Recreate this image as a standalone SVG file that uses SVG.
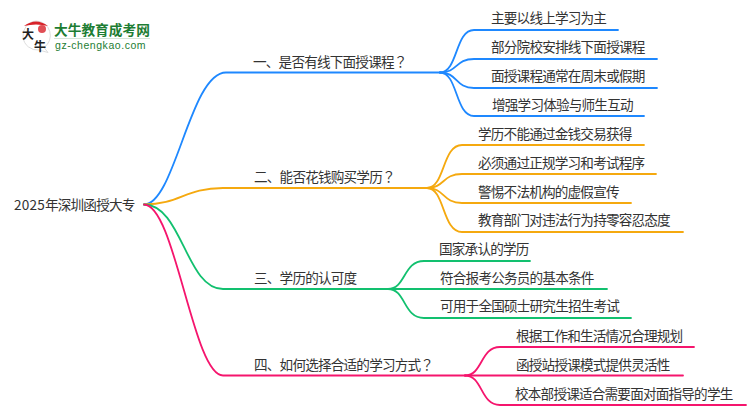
<svg xmlns="http://www.w3.org/2000/svg" width="750" height="410" viewBox="0 0 750 410">
<style>
text{font-family:"Noto Sans CJK SC","Noto Sans",sans-serif;font-size:13.6px;letter-spacing:-.8px;fill:#333}
.q{font-family:"Noto Sans CJK JP",sans-serif}
.d{letter-spacing:.2px}
.c{fill:none;stroke-width:1.8;stroke-linecap:round}
.b{stroke:#1e88ff}.o{stroke:#f5a90f}.g{stroke:#12c06f}.p{stroke:#f5156d}
</style>
<rect width="750" height="410" fill="#fff"/>
<g id="logo">
<path d="M36 21a14.500 14.500 0 1 0 3 29l9 2.500-4-5a14.500 14.500 0 0 0-8-26.500z" fill="#fff" stroke="#ddd"/>
<path d="M24 26q12-9 24 0q-12-3-24 0z" fill="#d8232a"/>
<circle cx="42" cy="29" r="4" fill="#d8232a" opacity=".8"/>
<text x="22" y="39" style="font-size:12px;letter-spacing:0;fill:#222;font-weight:700">大</text>
<text x="34" y="51" style="font-size:12px;letter-spacing:0;fill:#222;font-weight:700">牛</text>
<text x="54" y="35" style="font-size:13.700px;letter-spacing:0;font-weight:700;fill:#1d7d33">大牛教育成考网</text>
<rect x="54" y="38" width="96" height="1" fill="#d5e5d8"/>
<text x="55" y="49" style="font-size:10.500px;fill:#1d7d33;font-family:'Liberation Sans',sans-serif;letter-spacing:.55px">gz-chengkao.com</text>
</g>
<g id="connectors">
<path class="c b" d="M144 204.500C175 204.500 190 72.500 226 72.500H440"/>
<path class="c o" d="M144 204.500C180 204.500 185 188 223 188H427"/>
<path class="c g" d="M144 204.500C182 204.500 186 289 223 289H388"/>
<path class="c p" d="M144 204.500C175 204.500 193 375.500 223 375.500H465"/>
<path class="c b" d="M440 72.500C458 72.500 455 30 474 30H618"/>
<path class="c b" d="M440 72.500C458 72.500 455 59 474 59H657"/>
<path class="c b" d="M440 72.500C458 72.500 455 88 474 88H657"/>
<path class="c b" d="M440 72.500C458 72.500 455 116 474 116H644"/>
<path class="c o" d="M427 188C445 188 442 145 462 145H644"/>
<path class="c o" d="M427 188C445 188 442 174 462 174H656"/>
<path class="c o" d="M427 188C445 188 442 203 462 203H631"/>
<path class="c o" d="M427 188C445 188 442 232 462 232H683"/>
<path class="c g" d="M388 289C406 289 403 261 424 261H530"/>
<path class="c g" d="M388 289H607"/>
<path class="c g" d="M388 289C406 289 403 318 424 318H631"/>
<path class="c p" d="M465 375.500C483 375.500 480 347 500 347H694"/>
<path class="c p" d="M465 375.500H683"/>
<path class="c p" d="M465 375.500C483 375.500 480 405 500 405H746"/>
</g>
<g id="root"><text x="14" y="210"><tspan class="d">2025</tspan>年深圳函授大专</text></g>
<g id="n1"><text x="253" y="67">一、是否有线下面授课程<tspan class="q">？</tspan></text></g>
<g id="n2"><text x="254" y="182">二、能否花钱购买学历<tspan class="q">？</tspan></text></g>
<g id="n3"><text x="254" y="283">三、学历的认可度</text></g>
<g id="n4"><text x="254" y="370">四、如何选择合适的学习方式<tspan class="q">？</tspan></text></g>
<g id="n1a"><text x="491" y="23">主要以线上学习为主</text></g>
<g id="n1b"><text x="491" y="52">部分院校安排线下面授课程</text></g>
<g id="n1c"><text x="491" y="81">面授课程通常在周末或假期</text></g>
<g id="n1d"><text x="492" y="110">增强学习体验与师生互动</text></g>
<g id="n2a"><text x="478" y="139">学历不能通过金钱交易获得</text></g>
<g id="n2b"><text x="478" y="168">必须通过正规学习和考试程序</text></g>
<g id="n2c"><text x="478" y="197">警惕不法机构的虚假宣传</text></g>
<g id="n2d"><text x="478" y="225">教育部门对违法行为持零容忍态度</text></g>
<g id="n3a"><text x="439" y="254">国家承认的学历</text></g>
<g id="n3b"><text x="440" y="283">符合报考公务员的基本条件</text></g>
<g id="n3c"><text x="440" y="311">可用于全国硕士研究生招生考试</text></g>
<g id="n4a"><text x="516" y="341">根据工作和生活情况合理规划</text></g>
<g id="n4b"><text x="516" y="370">函授站授课模式提供灵活性</text></g>
<g id="n4c"><text x="515" y="399">校本部授课适合需要面对面指导的学生</text></g>
</svg>
